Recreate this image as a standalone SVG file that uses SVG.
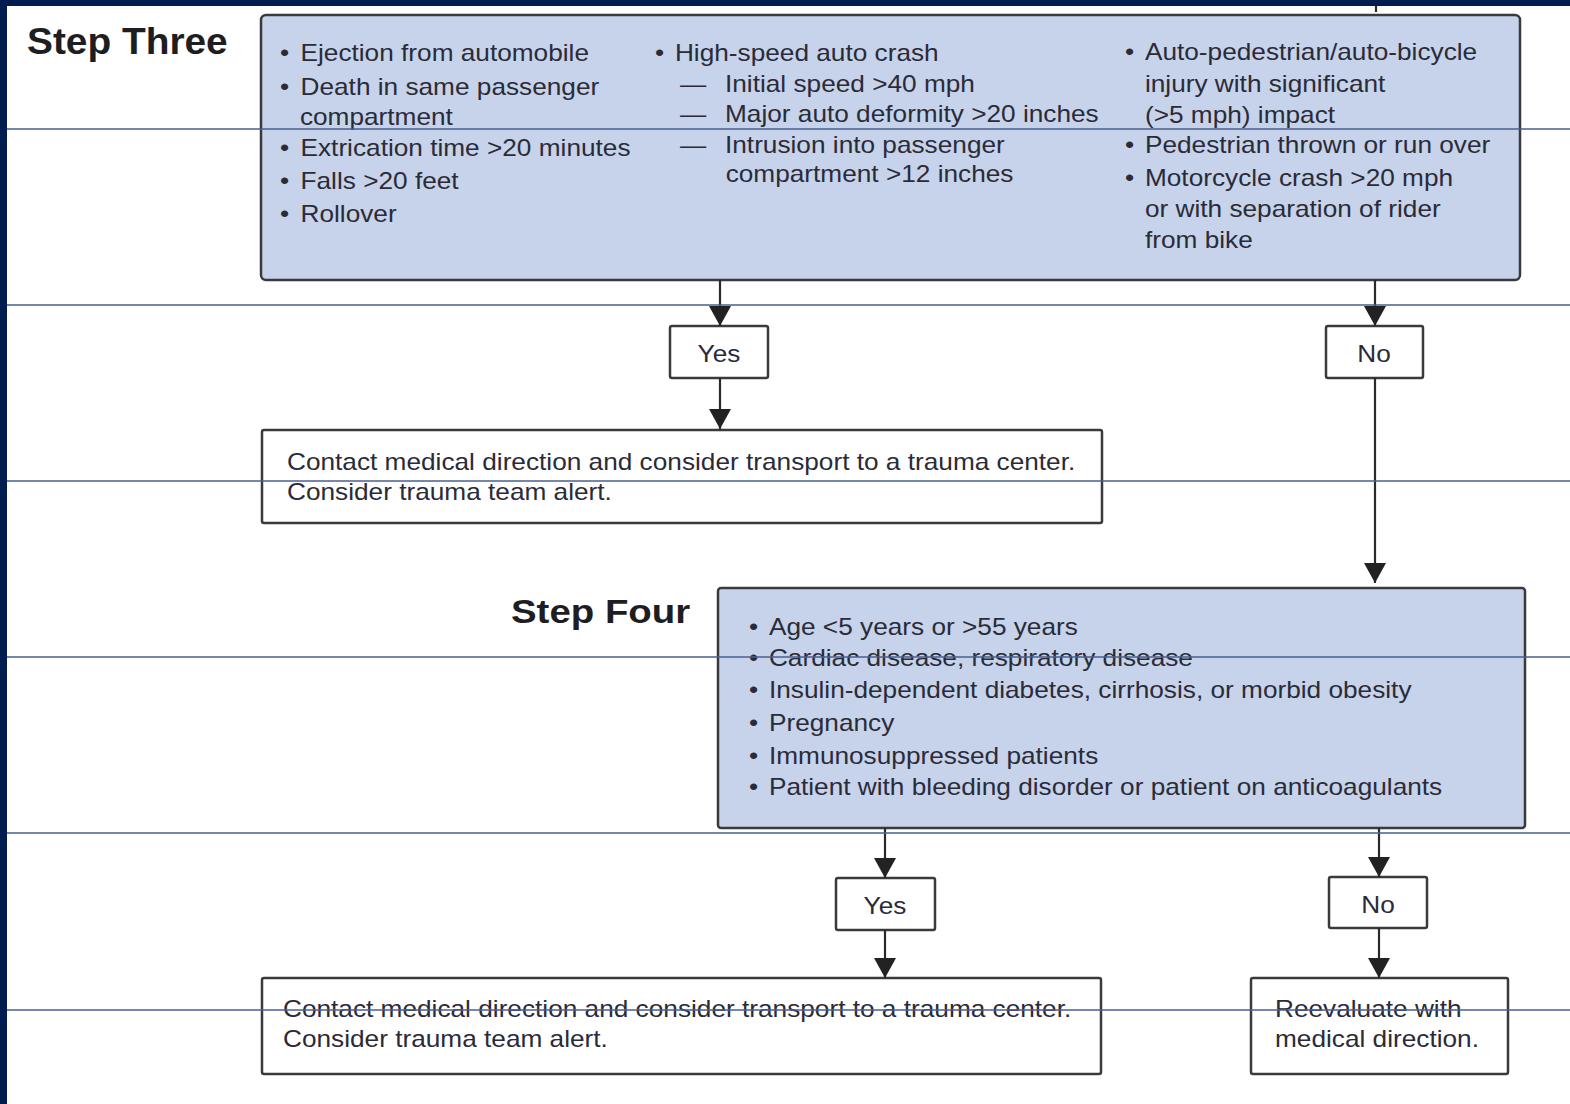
<svg xmlns="http://www.w3.org/2000/svg" width="1570" height="1104" viewBox="0 0 1570 1104">
<style>
.bg{fill:#ffffff}
.frame{fill:#011c4e}
.grid{stroke:#4a5f8f;stroke-width:1.3;fill:none}
.box{fill:#c6d3ea;stroke:#3a3a3e;stroke-width:2.5}
.wbox{fill:#ffffff;stroke:#3a3a3e;stroke-width:2.5}
.t{font-family:"Liberation Sans",Arial,sans-serif;font-size:23px;fill:#2b2b38}
.title{font-family:"Liberation Sans",Arial,sans-serif;font-weight:bold;fill:#1e1e22}
.conn{stroke:#2a2a2a;stroke-width:2.2;fill:none}
</style>
<defs>
<marker id="ah" markerUnits="userSpaceOnUse" markerWidth="22" markerHeight="20" viewBox="0 0 22 20" refX="11" refY="20" orient="auto-start-reverse">
<path d="M0,0 L22,0 L11,20 Z" fill="#222222" transform="rotate(0)"/>
</marker>
<marker id="ahd" markerUnits="userSpaceOnUse" markerWidth="20" markerHeight="22" viewBox="0 0 20 22" refX="20" refY="11" orient="auto">
<path d="M0,0 L20,11 L0,22 Z" fill="#222222"/>
</marker>
</defs>
<rect class="bg" x="0" y="0" width="1570" height="1104"/>

<g id="step-three-label">
<g transform="translate(27,0) scale(1.05,1)"><text class="title" x="0" y="54" font-size="37">Step Three</text></g>
</g>

<g id="step-three-box">
<rect class="box" x="261" y="15" width="1259" height="265" rx="5"/>
<g transform="translate(280,0) scale(1.14,1)">
<text class="t" y="61"><tspan x="0">•</tspan><tspan x="18">Ejection from automobile</tspan></text>
<text class="t" y="95"><tspan x="0">•</tspan><tspan x="18">Death in same passenger</tspan></text>
<text class="t" x="17.5" y="125">compartment</text>
<text class="t" y="156"><tspan x="0">•</tspan><tspan x="18">Extrication time &gt;20 minutes</tspan></text>
<text class="t" y="189"><tspan x="0">•</tspan><tspan x="18">Falls &gt;20 feet</tspan></text>
<text class="t" y="222"><tspan x="0">•</tspan><tspan x="18">Rollover</tspan></text>
</g>
<g transform="translate(655,0) scale(1.14,1)">
<text class="t" y="61"><tspan x="0">•</tspan><tspan x="17.5">High-speed auto crash</tspan></text>
<text class="t" y="92"><tspan x="22">—</tspan><tspan x="61.4">Initial speed &gt;40 mph</tspan></text>
<text class="t" y="122"><tspan x="22">—</tspan><tspan x="61.4">Major auto deformity &gt;20 inches</tspan></text>
<text class="t" y="153"><tspan x="22">—</tspan><tspan x="61.4">Intrusion into passenger</tspan></text>
<text class="t" x="62" y="182">compartment &gt;12 inches</text>
</g>
<g transform="translate(1125,0) scale(1.14,1)">
<text class="t" y="60"><tspan x="0">•</tspan><tspan x="17.5">Auto-pedestrian/auto-bicycle</tspan></text>
<text class="t" x="17.5" y="92">injury with significant</text>
<text class="t" x="17.5" y="123">(&gt;5 mph) impact</text>
<text class="t" y="153"><tspan x="0">•</tspan><tspan x="17.5">Pedestrian thrown or run over</tspan></text>
<text class="t" y="186"><tspan x="0">•</tspan><tspan x="17.5">Motorcycle crash &gt;20 mph</tspan></text>
<text class="t" x="17.5" y="217">or with separation of rider</text>
<text class="t" x="17.5" y="248">from bike</text>
</g>
</g>

<g id="yes-1">
<rect class="wbox" x="670" y="326" width="98" height="52" rx="2"/>
<g transform="translate(719,0) scale(1.14,1)"><text class="t" x="0" y="362" text-anchor="middle">Yes</text></g>
</g>

<g id="no-1">
<rect class="wbox" x="1326" y="326" width="97" height="52" rx="2"/>
<g transform="translate(1374,0) scale(1.14,1)"><text class="t" x="0" y="362" text-anchor="middle">No</text></g>
</g>

<g id="contact-1">
<rect class="wbox" x="262" y="430" width="840" height="93" rx="2"/>
<g transform="translate(287,0) scale(1.14,1)">
<text class="t" x="0" y="470">Contact medical direction and consider transport to a trauma center.</text>
<text class="t" x="0" y="500">Consider trauma team alert.</text>
</g>
</g>

<g id="step-four-label">
<g transform="translate(511,0) scale(1.13,1)"><text class="title" x="0" y="623" font-size="34">Step Four</text></g>
</g>

<g id="step-four-box">
<rect class="box" x="718" y="588" width="807" height="240" rx="3"/>
<g transform="translate(749,0) scale(1.14,1)">
<text class="t" y="635"><tspan x="0">•</tspan><tspan x="17.5">Age &lt;5 years or &gt;55 years</tspan></text>
<text class="t" y="666"><tspan x="0">•</tspan><tspan x="17.5">Cardiac disease, respiratory disease</tspan></text>
<text class="t" y="698"><tspan x="0">•</tspan><tspan x="17.5">Insulin-dependent diabetes, cirrhosis, or morbid obesity</tspan></text>
<text class="t" y="731"><tspan x="0">•</tspan><tspan x="17.5">Pregnancy</tspan></text>
<text class="t" y="764"><tspan x="0">•</tspan><tspan x="17.5">Immunosuppressed patients</tspan></text>
<text class="t" y="795"><tspan x="0">•</tspan><tspan x="17.5">Patient with bleeding disorder or patient on anticoagulants</tspan></text>
</g>
</g>

<g id="yes-2">
<rect class="wbox" x="836" y="878" width="99" height="52" rx="2"/>
<g transform="translate(885,0) scale(1.14,1)"><text class="t" x="0" y="914" text-anchor="middle">Yes</text></g>
</g>

<g id="no-2">
<rect class="wbox" x="1329" y="877" width="98" height="51" rx="2"/>
<g transform="translate(1378,0) scale(1.14,1)"><text class="t" x="0" y="913" text-anchor="middle">No</text></g>
</g>

<g id="contact-2">
<rect class="wbox" x="262" y="978" width="839" height="96" rx="2"/>
<g transform="translate(283,0) scale(1.14,1)">
<text class="t" x="0" y="1017">Contact medical direction and consider transport to a trauma center.</text>
<text class="t" x="0" y="1047">Consider trauma team alert.</text>
</g>
</g>

<g id="reevaluate">
<rect class="wbox" x="1251" y="978" width="257" height="96" rx="2"/>
<g transform="translate(1275,0) scale(1.14,1)">
<text class="t" x="0" y="1017">Reevaluate with</text>
<text class="t" x="0" y="1047">medical direction.</text>
</g>
</g>

<g id="connectors">
<line class="conn" x1="1376" y1="5" x2="1376" y2="12"/>
<line class="conn" x1="720" y1="280" x2="720" y2="326" marker-end="url(#ahd)"/>
<line class="conn" x1="720" y1="378" x2="720" y2="429" marker-end="url(#ahd)"/>
<line class="conn" x1="1375" y1="280" x2="1375" y2="326" marker-end="url(#ahd)"/>
<line class="conn" x1="1375" y1="378" x2="1375" y2="583" marker-end="url(#ahd)"/>
<line class="conn" x1="885" y1="828" x2="885" y2="878" marker-end="url(#ahd)"/>
<line class="conn" x1="885" y1="930" x2="885" y2="978" marker-end="url(#ahd)"/>
<line class="conn" x1="1379" y1="828" x2="1379" y2="877" marker-end="url(#ahd)"/>
<line class="conn" x1="1379" y1="928" x2="1379" y2="978" marker-end="url(#ahd)"/>
</g>

<g id="grid-lines">
<line class="grid" x1="7" y1="129" x2="1570" y2="129"/>
<line class="grid" x1="7" y1="305" x2="1570" y2="305"/>
<line class="grid" x1="7" y1="481" x2="1570" y2="481"/>
<line class="grid" x1="7" y1="657" x2="1570" y2="657"/>
<line class="grid" x1="7" y1="833" x2="1570" y2="833"/>
<line class="grid" x1="7" y1="1010" x2="1570" y2="1010"/>
</g>

<g id="frame">
<rect class="frame" x="0" y="0" width="1570" height="6"/>
<rect class="frame" x="0" y="0" width="7" height="1104"/>
</g>
</svg>
